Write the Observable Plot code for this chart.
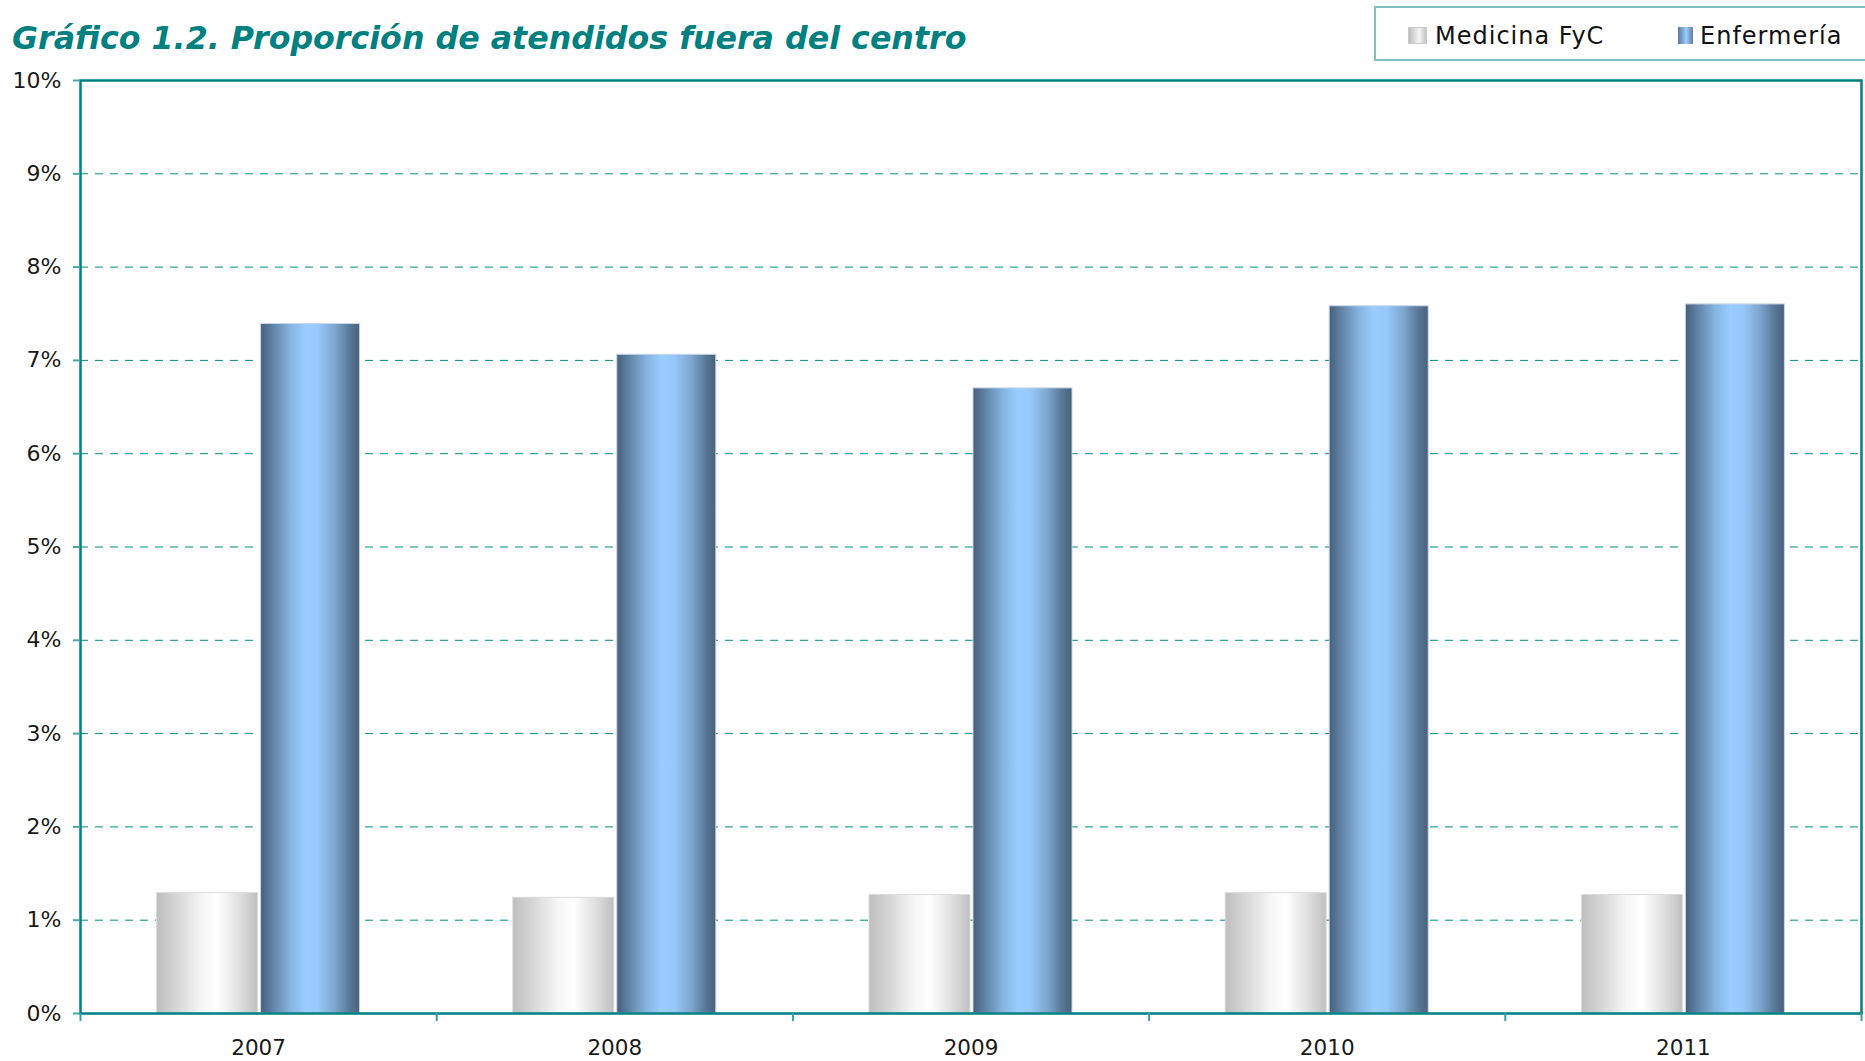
<!DOCTYPE html>
<html>
<head>
<meta charset="utf-8">
<script src="https://cdn.jsdelivr.net/npm/d3@7"></script>
<script src="https://cdn.jsdelivr.net/npm/@observablehq/plot@0.6"></script>
<style>
  html, body { margin: 0; padding: 0; background: #fff; }
  #wrap { position: relative; width: 1865px; height: 1061px; overflow: hidden; }
  #header { position: relative; width: 1865px; height: 66px; }
  #title { position: absolute; left: 12px; top: 23px; margin: 0; font-family: "DejaVu Sans", sans-serif;
           font-weight: bold; font-style: italic; font-size: 31.7px; line-height: 1; color: #008080; white-space: nowrap; }
  #legend { position: absolute; left: 1374px; top: 6px; width: 520px; height: 51px; border: 2px solid #80c0c0; }
  .sw { position: absolute; top: 19px; height: 17px; box-sizing: border-box; }
  .lt { position: absolute; top: 16px; font-family: "DejaVu Sans", sans-serif; font-size: 24px; line-height: 1;
        letter-spacing: 1px; color: #111; white-space: nowrap; }
  #chart svg { display: block; }
</style>
</head>
<body>
<div id="wrap">
  <div id="header">
    <div id="title">Gráfico 1.2. Proporción de atendidos fuera del centro</div>
    <div id="legend"></div>
  </div>
  <div id="chart"></div>
</div>
<script>
// ---- data ----
const years = ["2007", "2008", "2009", "2010", "2011"];
const medicina = [1.29, 1.24, 1.27, 1.29, 1.27];
const enfermeria = [7.39, 7.06, 6.70, 7.58, 7.60];
const seriesNames = ["Medicina FyC", "Enfermería"];
const yTicks = [0, 1, 2, 3, 4, 5, 6, 7, 8, 9, 10];
const gridTicks = [1, 2, 3, 4, 5, 6, 7, 8, 9];

// ---- layout ----
const W = 1865, H = 995;
const mL = 80, mR = 4, mT = 14, mB = 48;
const halfStep = (W - mL - mR) / years.length / 2;
const teal = "#008080";

const medRows = years.map((y, i) => ({year: y, value: medicina[i]}));
const enfRows = years.map((y, i) => ({year: y, value: enfermeria[i]}));

const plot = Plot.plot({
  width: W,
  height: H,
  marginLeft: mL,
  marginRight: mR,
  marginTop: mT,
  marginBottom: mB,
  style: {fontFamily: "DejaVu Sans, sans-serif", color: "#1a1a1a", background: "#fff"},
  x: {type: "band", domain: years, paddingInner: 0.43, paddingOuter: 0.215, round: false, label: null},
  y: {domain: [0, 10], nice: false, label: null},
  marks: [
    Plot.ruleY(gridTicks, {stroke: "#008a8a", strokeWidth: 1, strokeDasharray: "8,7"}),
    Plot.barY(medRows, {x: "year", y: "value", fill: "url(#gMed)", insetRight: 102,
      stroke: "#dcdcdc", strokeWidth: 1}),
    Plot.barY(enfRows, {x: "year", y: "value", fill: "url(#gEnf)", insetLeft: 104,
      stroke: "#c9d6e4", strokeWidth: 1}),
    Plot.frame({stroke: teal, strokeWidth: 2.5}),
    Plot.axisY({ticks: yTicks, tickFormat: d => d + "%", tickSize: 7, tickPadding: 12,
      fontSize: 22, stroke: "#4aa8a8", strokeWidth: 2, label: null}),
    Plot.axisX({tickSize: 0, tickPadding: 26, fontSize: 21.5, label: null}),
    Plot.axisX({ticks: years, tickSize: 8, tickFormat: () => "", dx: -halfStep,
      stroke: "#3a9e9e", strokeWidth: 2, label: null}),
    Plot.axisX({ticks: [years[years.length - 1]], tickSize: 8, tickFormat: () => "", dx: halfStep,
      stroke: "#3a9e9e", strokeWidth: 2, label: null})
  ]
});

// gradients for the cylinder-like bars
const ns = "http://www.w3.org/2000/svg";
const defs = document.createElementNS(ns, "defs");
function addGrad(id, stops) {
  const g = document.createElementNS(ns, "linearGradient");
  g.setAttribute("id", id);
  g.setAttribute("x1", "0"); g.setAttribute("x2", "1");
  g.setAttribute("y1", "0"); g.setAttribute("y2", "0");
  for (const [o, c] of stops) {
    const s = document.createElementNS(ns, "stop");
    s.setAttribute("offset", o);
    s.setAttribute("stop-color", c);
    g.appendChild(s);
  }
  defs.appendChild(g);
}
addGrad("gMed", [["0", "#bebebe"], ["0.2", "#d6d6d6"], ["0.45", "#f6f6f6"], ["0.6", "#ffffff"],
                 ["0.8", "#e2e2e2"], ["1", "#bfbfbf"]]);
addGrad("gEnf", [["0", "#485f7a"], ["0.12", "#5f82a6"], ["0.3", "#86b3e0"], ["0.45", "#99ccff"],
                 ["0.58", "#96c8fb"], ["0.75", "#7ea6cf"], ["0.9", "#587796"], ["1", "#4a617c"]]);
plot.insertBefore(defs, plot.firstChild);
document.getElementById("chart").appendChild(plot);

// legend
const legend = document.getElementById("legend");
const legendItems = [
  {name: seriesNames[0], bg: "linear-gradient(to right, #bdbdbd, #f4f4f4 60%, #c4c4c4)", border: "1px solid #c8c8c8", sx: 32, sw: 19, tx: 59},
  {name: seriesNames[1], bg: "linear-gradient(to right, #5a7898, #99ccff 55%, #5f7f9f)", border: "none", sx: 302, sw: 15, tx: 324}
];
for (const it of legendItems) {
  const s = document.createElement("div");
  s.className = "sw";
  s.style.left = it.sx + "px";
  s.style.width = it.sw + "px";
  s.style.background = it.bg;
  s.style.border = it.border;
  legend.appendChild(s);
  const t = document.createElement("div");
  t.className = "lt";
  t.style.left = it.tx + "px";
  t.textContent = it.name;
  legend.appendChild(t);
}
</script>
</body>
</html>
